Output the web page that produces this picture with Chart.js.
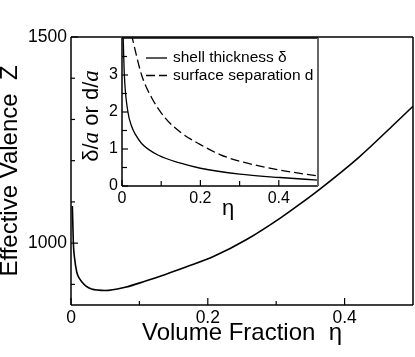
<!DOCTYPE html>
<html>
<head>
<meta charset="utf-8">
<script src="https://cdn.jsdelivr.net/npm/chart.js@4"></script>
<style>
  html, body { margin: 0; padding: 0; background: #fff; }
  #wrap { position: relative; width: 415px; height: 357px; }
  #wrap canvas { position: absolute; left: 0; top: 0; }
  #insetChart { pointer-events: none; }
</style>
</head>
<body>
<div id="wrap">
  <canvas id="mainChart" width="415" height="357"></canvas>
  <canvas id="insetChart" width="415" height="357"></canvas>
</div>
<script>
// main panel: effective valence Z vs volume fraction eta
const etaMain = [0.002, 0.0034, 0.0055, 0.0084, 0.011, 0.016, 0.022, 0.03, 0.04, 0.05, 0.079, 0.109, 0.138, 0.168, 0.209, 0.258, 0.307, 0.334, 0.363, 0.42, 0.469, 0.5];
const valenceZ = [1090, 1002, 960, 930, 918, 906, 896, 889, 886, 885, 893, 908, 924, 942, 968, 1010, 1062, 1094, 1130, 1207, 1283, 1332];
const mainXTicks = [0, 0.2, 0.4];
const mainXMinor = [0.1, 0.3];
const mainYTicks = [1000, 1500];
const mainYMinor = [900, 1100, 1200, 1300, 1400];

// inset: shell thickness and surface separation (in units of a)
const etaShell = [0.0025, 0.006, 0.0145, 0.025, 0.035, 0.05, 0.093, 0.152, 0.2, 0.3, 0.403, 0.5];
const shellThickness = [4.2, 3.0, 2.04, 1.6, 1.38, 1.15, 0.83, 0.61, 0.48, 0.32, 0.23, 0.16];
const etaGap = [0.024, 0.05, 0.076, 0.11, 0.152, 0.2, 0.25, 0.3, 0.403, 0.5];
const surfaceSeparation = [4.1, 3.0, 2.38, 1.84, 1.43, 1.12, 0.85, 0.67, 0.43, 0.27];
const insetXTicks = [0, 0.2, 0.4];
const insetXMinor = [0.1, 0.3];
const insetYTicks = [0, 1, 2, 3];
const insetYMinor = [0.5, 1.5, 2.5, 3.5];

const SANS = "'Liberation Sans', Arial, Helvetica, sans-serif";
const SERIF = "'Liberation Serif', 'Times New Roman', serif";

function toPoints(xs, ys) {
    return xs.map((x, i) => ({ x: x, y: ys[i] }));
}

function fixedTicks(values) {
    return scale => { scale.ticks = values.map(v => ({ value: v })); };
}

function line(ctx, x1, y1, x2, y2) {
    ctx.beginPath();
    ctx.moveTo(x1, y1);
    ctx.lineTo(x2, y2);
    ctx.stroke();
}

// white plot background, box frame and inward tick marks
const framePlugin = {
    id: 'frame',
    beforeDraw(chart, args, opts) {
        if (!opts.fill) return;
        const a = chart.chartArea;
        chart.ctx.save();
        chart.ctx.fillStyle = opts.fill;
        chart.ctx.fillRect(a.left, a.top, a.right - a.left, a.bottom - a.top);
        chart.ctx.restore();
    },
    afterDraw(chart, args, opts) {
        const ctx = chart.ctx;
        const a = chart.chartArea;
        const xs = chart.scales.x, ys = chart.scales.y;
        ctx.save();
        ctx.strokeStyle = '#000';
        ctx.lineWidth = 1.2;
        opts.xMajor.forEach(v => { const p = xs.getPixelForValue(v); line(ctx, p, a.bottom, p, a.bottom - opts.major); });
        opts.xMinor.forEach(v => { const p = xs.getPixelForValue(v); line(ctx, p, a.bottom, p, a.bottom - opts.minor); });
        opts.yMajor.forEach(v => { const p = ys.getPixelForValue(v); line(ctx, a.left, p, a.left + opts.major, p); });
        opts.yMinor.forEach(v => { const p = ys.getPixelForValue(v); line(ctx, a.left, p, a.left + opts.minor, p); });

        ctx.lineWidth = 1.5;
        line(ctx, a.left, a.top, a.left, a.bottom);
        line(ctx, a.left, a.bottom, a.right, a.bottom);
        line(ctx, a.left, a.top, a.right, a.top);
        ctx.strokeStyle = opts.rightColor || '#000';
        ctx.lineWidth = opts.rightWidth || 1.5;
        line(ctx, a.right, a.top, a.right, a.bottom);
        ctx.restore();
    }
};

// inset axis titles (mixed fonts) and legend
const insetTextPlugin = {
    id: 'insetText',
    afterDraw(chart) {
        const ctx = chart.ctx;
        ctx.save();
        ctx.fillStyle = '#000';
        ctx.textBaseline = 'middle';

        // y title: δ/a or d/a, rotated
        const parts = [
            { t: 'δ/', f: '22px ' + SANS },
            { t: 'a', f: 'italic 23px ' + SERIF },
            { t: ' or d/', f: '22px ' + SANS },
            { t: 'a', f: 'italic 23px ' + SERIF }
        ];
        let total = 0;
        parts.forEach(p => { ctx.font = p.f; p.w = ctx.measureText(p.t).width; total += p.w; });
        ctx.save();
        ctx.translate(92, 116);
        ctx.rotate(-Math.PI / 2);
        let x = -total / 2;
        ctx.textAlign = 'left';
        parts.forEach(p => { ctx.font = p.f; ctx.fillText(p.t, x, 0); x += p.w; });
        ctx.restore();

        // x title
        ctx.font = '22px ' + SANS;
        ctx.textAlign = 'center';
        ctx.fillText('η', 228, 209);

        // legend
        ctx.font = '15.5px ' + SANS;
        ctx.textAlign = 'left';
        chart.data.datasets.forEach((ds, i) => {
            const y = 58 + i * 17.5;
            ctx.save();
            ctx.strokeStyle = ds.borderColor;
            ctx.lineWidth = ds.borderWidth;
            ctx.setLineDash(ds.borderDash || []);
            line(ctx, 146, y, 167, y);
            ctx.restore();
            ctx.fillText(ds.label, 173, y);
        });
        ctx.restore();
    }
};

const mainChart = new Chart(document.getElementById('mainChart'), {
    type: 'scatter',
    data: {
        datasets: [{
            label: 'Z',
            data: toPoints(etaMain, valenceZ),
            showLine: true,
            borderColor: '#000',
            borderWidth: 1.6,
            pointRadius: 0,
            cubicInterpolationMode: 'monotone'
        }]
    },
    options: {
        responsive: false,
        animation: false,
        events: [],
        layout: { padding: { top: 37, right: 2, left: 0, bottom: 0 } },
        plugins: {
            legend: { display: false },
            tooltip: { enabled: false },
            frame: { xMajor: mainXTicks, xMinor: mainXMinor, yMajor: mainYTicks, yMinor: mainYMinor, major: 7, minor: 4 }
        },
        scales: {
            x: {
                type: 'linear', min: 0, max: 0.5,
                afterBuildTicks: fixedTicks(mainXTicks),
                afterFit: s => { s.height = 52; },
                grid: { display: false, drawTicks: false },
                border: { display: false },
                ticks: { color: '#000', padding: 3, font: { family: SANS, size: 17.5 }, callback: v => String(v) },
                title: { display: true, text: 'Volume Fraction  η', color: '#000', font: { family: SANS, size: 24, lineHeight: 1 }, padding: { top: 0, bottom: 11.5 } }
            },
            y: {
                type: 'linear', min: 850, max: 1500,
                afterBuildTicks: fixedTicks(mainYTicks),
                afterFit: s => { s.width = 71; },
                grid: { display: false, drawTicks: false },
                border: { display: false },
                ticks: { color: '#000', padding: 4, font: { family: SANS, size: 17.5 }, callback: v => String(v) },
                title: { display: true, text: 'Effective Valence  Z', color: '#000', font: { family: SANS, size: 24, lineHeight: 0.9 }, padding: { top: 0, bottom: 0 } }
            }
        }
    },
    plugins: [framePlugin]
});

const insetChart = new Chart(document.getElementById('insetChart'), {
    type: 'scatter',
    data: {
        datasets: [{
            label: 'shell thickness δ',
            data: toPoints(etaShell, shellThickness),
            showLine: true,
            borderColor: '#000',
            borderWidth: 1.3,
            pointRadius: 0,
            cubicInterpolationMode: 'monotone'
        }, {
            label: 'surface separation d',
            data: toPoints(etaGap, surfaceSeparation),
            showLine: true,
            borderColor: '#000',
            borderWidth: 1.3,
            borderDash: [9, 4],
            pointRadius: 0,
            cubicInterpolationMode: 'monotone'
        }]
    },
    options: {
        responsive: false,
        animation: false,
        events: [],
        layout: { padding: { top: 38, right: 97, left: 0, bottom: 0 } },
        plugins: {
            legend: { display: false },
            tooltip: { enabled: false },
            frame: { fill: '#fff', xMajor: insetXTicks, xMinor: insetXMinor, yMajor: insetYTicks, yMinor: insetYMinor, major: 6, minor: 5, rightColor: '#666', rightWidth: 2 }
        },
        scales: {
            x: {
                type: 'linear', min: 0, max: 0.5,
                afterBuildTicks: fixedTicks(insetXTicks),
                afterFit: s => { s.height = 171; },
                grid: { display: false, drawTicks: false },
                border: { display: false },
                ticks: { color: '#000', padding: 2.5, font: { family: SANS, size: 16 }, callback: v => String(v) }
            },
            y: {
                type: 'linear', min: 0, max: 4,
                afterBuildTicks: fixedTicks(insetYTicks),
                afterFit: s => { s.width = 122; },
                grid: { display: false, drawTicks: false },
                border: { display: false },
                ticks: { color: '#000', padding: 4, font: { family: SANS, size: 16 }, callback: v => String(v) }
            }
        }
    },
    plugins: [framePlugin, insetTextPlugin]
});
</script>
</body>
</html>
